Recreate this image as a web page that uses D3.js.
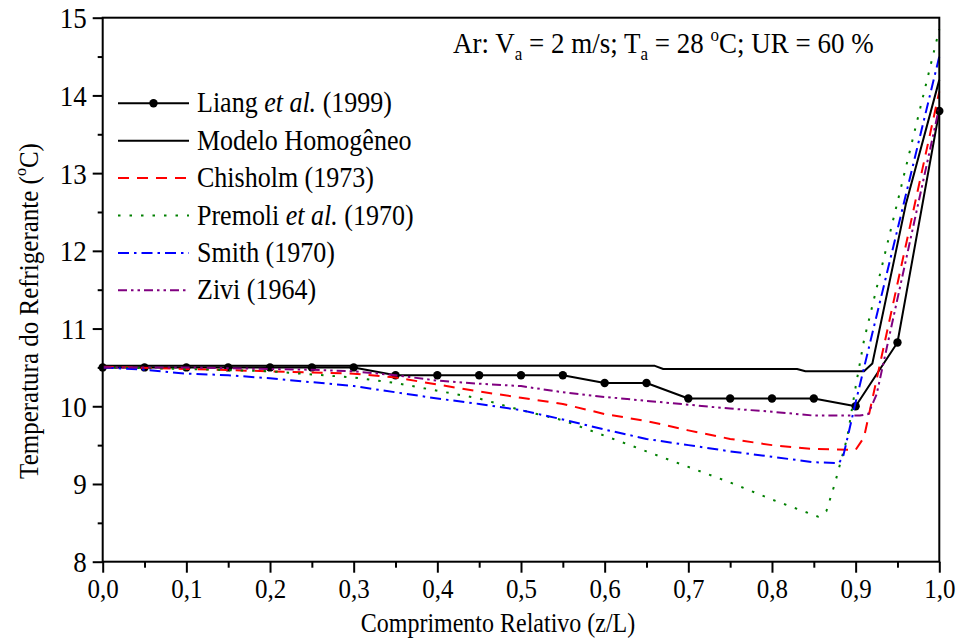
<!DOCTYPE html>
<html>
<head>
<meta charset="utf-8">
<script src="https://cdn.jsdelivr.net/npm/d3@7"></script>
<style>
  html, body { margin: 0; padding: 0; background: #fff; }
  svg text { font-family: "Liberation Serif", Tinos, "Times New Roman", Times, "DejaVu Serif", serif; fill: #000; }
</style>
</head>
<body>
<svg id="chart" width="957" height="641"></svg>
<script>
// Refrigerant temperature along the relative tube length for several void-fraction models
const xTicks = [0, 0.1, 0.2, 0.3, 0.4, 0.5, 0.6, 0.7, 0.8, 0.9, 1.0];
const yTicks = [8, 9, 10, 11, 12, 13, 14, 15];

const liangZ = [0, 0.05, 0.1, 0.15, 0.2, 0.25, 0.3, 0.35, 0.4, 0.45, 0.5, 0.55, 0.6, 0.65, 0.7, 0.75, 0.8, 0.85, 0.9, 0.95, 1.0];
const liangT = [10.5, 10.5, 10.5, 10.5, 10.5, 10.5, 10.5, 10.4, 10.4, 10.4, 10.4, 10.4, 10.3, 10.3, 10.1, 10.1, 10.1, 10.1, 10.0, 10.82, 13.8];

const homogZ = [0, 0.2, 0.3, 0.66, 0.67, 0.83, 0.84, 0.91, 0.92, 0.96, 1.0];
const homogT = [10.52, 10.52, 10.52, 10.52, 10.48, 10.48, 10.45, 10.45, 10.55, 12.6, 14.2];

const chisholmZ = [0, 0.1, 0.2, 0.3, 0.35, 0.4, 0.45, 0.5, 0.55, 0.6, 0.65, 0.7, 0.75, 0.8, 0.85, 0.9, 0.91, 1.0];
const chisholmT = [10.51, 10.48, 10.45, 10.42, 10.37, 10.28, 10.19, 10.11, 10.03, 9.9, 9.81, 9.69, 9.58, 9.5, 9.45, 9.44, 9.6, 14.05];

const premoliZ = [0, 0.1, 0.2, 0.25, 0.3, 0.35, 0.4, 0.45, 0.5, 0.55, 0.6, 0.65, 0.7, 0.75, 0.8, 0.83, 0.855, 0.865, 0.875, 0.89, 0.9, 0.91, 1.0];
const premoliT = [10.5, 10.48, 10.45, 10.41, 10.37, 10.3, 10.2, 10.1, 9.95, 9.82, 9.62, 9.42, 9.22, 9.02, 8.8, 8.68, 8.58, 8.65, 9.0, 9.6, 10.25, 10.85, 14.85];

const smithZ = [0, 0.05, 0.1, 0.15, 0.2, 0.25, 0.3, 0.35, 0.4, 0.45, 0.5, 0.55, 0.6, 0.65, 0.7, 0.75, 0.8, 0.85, 0.88, 0.885, 0.9, 1.0];
const smithT = [10.5, 10.47, 10.42, 10.4, 10.36, 10.31, 10.26, 10.18, 10.1, 10.03, 9.95, 9.83, 9.7, 9.58, 9.5, 9.42, 9.35, 9.28, 9.27, 9.35, 10.05, 14.5];

const ziviZ = [0, 0.1, 0.2, 0.25, 0.3, 0.35, 0.4, 0.45, 0.5, 0.55, 0.6, 0.65, 0.7, 0.75, 0.8, 0.85, 0.905, 0.915, 0.925, 1.0];
const ziviT = [10.5, 10.5, 10.48, 10.47, 10.45, 10.4, 10.33, 10.29, 10.26, 10.18, 10.12, 10.07, 10.02, 9.97, 9.93, 9.88, 9.88, 9.9, 10.15, 13.85];

const seriesNames = ["Liang et al. (1999)", "Modelo Homogêneo", "Chisholm (1973)", "Premoli et al. (1970)", "Smith (1970)", "Zivi (1964)"];

const series = [
  { name: seriesNames[0], z: liangZ, t: liangT, color: "#000", dash: null, width: 2, markers: true },
  { name: seriesNames[1], z: homogZ, t: homogT, color: "#000", dash: null, width: 2, markers: false },
  { name: seriesNames[2], z: chisholmZ, t: chisholmT, color: "#ff0000", dash: "11,8", width: 2, markers: false },
  { name: seriesNames[3], z: premoliZ, t: premoliT, color: "#008000", dash: "2.5,9", width: 2, markers: false },
  { name: seriesNames[4], z: smithZ, t: smithT, color: "#0000ff", dash: "11,5,2.5,5", width: 2, markers: false },
  { name: seriesNames[5], z: ziviZ, t: ziviT, color: "#800080", dash: "9,4,2.5,4,2.5,4", width: 2, markers: false }
];

const svg = d3.select("#chart");
const plotL = 102.7, plotR = 939.3, plotT = 17.7, plotB = 561.7;
const stretch = 1.1; // glyphs are drawn slightly taller than wide

const x = d3.scaleLinear().domain([0, 1]).range([plotL, plotR]);
const y = d3.scaleLinear().domain([8, 15]).range([plotB, plotT]);

const fmt = d => d3.format(".1f")(d).replace(".", ",");

// Bottom axis with major and minor ticks
const xMinor = d3.range(0.05, 1, 0.1);
svg.append("g").attr("transform", `translate(0,${plotB})`)
  .call(d3.axisBottom(x).tickValues(xMinor).tickSize(6).tickFormat(""))
  .call(g => g.select(".domain").remove())
  .call(g => g.selectAll("line").attr("stroke", "#000").attr("stroke-width", 2));
const xAxis = svg.append("g").attr("transform", `translate(0,${plotB})`)
  .call(d3.axisBottom(x).tickValues(xTicks).tickSize(11).tickFormat(fmt));
xAxis.select(".domain").remove();
xAxis.selectAll("line").attr("stroke", "#000").attr("stroke-width", 2);
xAxis.selectAll("text").attr("y", null).attr("dy", null)
  .attr("transform", `translate(0,36) scale(1,${stretch})`)
  .attr("font-size", 25).attr("fill", "#000");

// Left axis with major and minor ticks
const yMinor = d3.range(8.5, 15, 1);
svg.append("g").attr("transform", `translate(${plotL},0)`)
  .call(d3.axisLeft(y).tickValues(yMinor).tickSize(5).tickFormat(""))
  .call(g => g.select(".domain").remove())
  .call(g => g.selectAll("line").attr("stroke", "#000").attr("stroke-width", 2));
const yAxis = svg.append("g").attr("transform", `translate(${plotL},0)`)
  .call(d3.axisLeft(y).tickValues(yTicks).tickSize(10).tickFormat(d3.format("d")));
yAxis.select(".domain").remove();
yAxis.selectAll("line").attr("stroke", "#000").attr("stroke-width", 2);
yAxis.selectAll("text").attr("x", null).attr("dy", null)
  .attr("transform", `translate(-16,10) scale(1,${stretch})`)
  .attr("font-size", 27).attr("fill", "#000");

// Curves
const line = d3.line().x(d => x(d[0])).y(d => y(d[1]));
series.forEach(s => {
  const pts = s.z.map((z, i) => [z, s.t[i]]);
  svg.append("path").datum(pts)
    .attr("d", line)
    .attr("fill", "none")
    .attr("stroke", s.color)
    .attr("stroke-width", s.width)
    .attr("stroke-dasharray", s.dash)
    .attr("stroke-linejoin", "round");
  if (s.markers) {
    svg.append("g").selectAll("circle").data(pts).join("circle")
      .attr("cx", d => x(d[0])).attr("cy", d => y(d[1])).attr("r", 4.2).attr("fill", "#000");
  }
});

// Frame
svg.append("rect").attr("x", plotL).attr("y", plotT).attr("width", plotR - plotL).attr("height", plotB - plotT)
  .attr("fill", "none").attr("stroke", "#000").attr("stroke-width", 2);

// Axis titles
svg.append("text").attr("transform", `translate(498,632) scale(1,${stretch})`).attr("text-anchor", "middle")
  .attr("font-size", 24).text("Comprimento Relativo (z/L)");

const yTitle = svg.append("text").attr("transform", `translate(38,311) rotate(-90) scale(1,${stretch})`)
  .attr("text-anchor", "middle").attr("font-size", 25);
yTitle.append("tspan").text("Temperatura do Refrigerante (");
yTitle.append("tspan").attr("font-size", 16).attr("dy", -11).text("o");
yTitle.append("tspan").attr("dy", 11).text("C)");

// Operating-condition note
const note = svg.append("text").attr("transform", `translate(453,53) scale(1,${stretch})`).attr("font-size", 27);
note.append("tspan").text("Ar: V");
note.append("tspan").attr("font-size", 17).attr("dy", 6).text("a");
note.append("tspan").attr("dy", -6).text(" = 2 m/s; T");
note.append("tspan").attr("font-size", 17).attr("dy", 6).text("a");
note.append("tspan").attr("dy", -6).text(" = 28 ");
note.append("tspan").attr("font-size", 17).attr("dy", -11).text("o");
note.append("tspan").attr("dy", 11).text("C; UR = 60 %");

// Legend
const legX0 = 118, legX1 = 189, legY0 = 103.3, legStep = 37.4;
series.forEach((s, i) => {
  const ly = legY0 + i * legStep;
  svg.append("line").attr("x1", legX0).attr("x2", legX1).attr("y1", ly).attr("y2", ly)
    .attr("stroke", s.color).attr("stroke-width", s.width).attr("stroke-dasharray", s.dash);
  if (s.markers) {
    svg.append("circle").attr("cx", (legX0 + legX1) / 2).attr("cy", ly).attr("r", 4.2).attr("fill", "#000");
  }
  const t = svg.append("text").attr("transform", `translate(197,${ly + 9}) scale(1,${stretch})`).attr("font-size", 26);
  const m = s.name.match(/^(.*?)(et al\.)(.*)$/);
  if (m) {
    t.append("tspan").text(m[1]);
    t.append("tspan").attr("font-style", "italic").text(m[2]);
    t.append("tspan").text(m[3]);
  } else {
    t.text(s.name);
  }
});
</script>
</body>
</html>
